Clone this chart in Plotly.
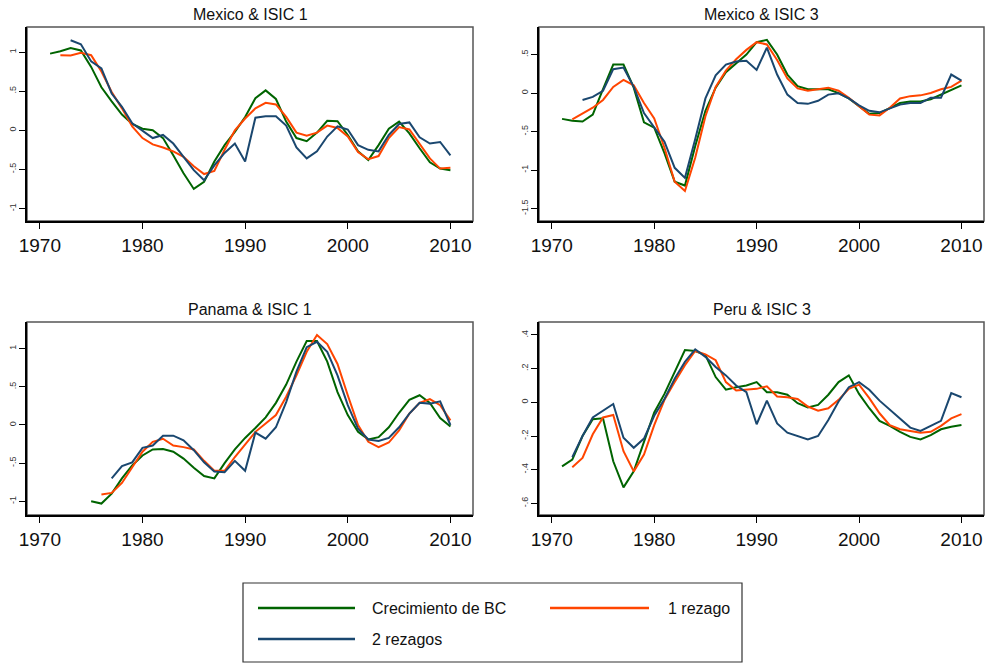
import plotly.graph_objects as go

FONT = "Liberation Sans, Arial, Helvetica, sans-serif"
GREEN = "#006400"
ORANGE = "#ff4500"
BLUE = "#1a476f"

SERIES_NAMES = ["Crecimiento de BC", "1 rezago", "2 rezagos"]
PANEL_TITLES = ["Mexico & ISIC 1", "Mexico & ISIC 3", "Panama & ISIC 1", "Peru & ISIC 3"]
X_TICKS = [1970, 1980, 1990, 2000, 2010]

# ---- Mexico & ISIC 1 ----
mx1_bc_years = list(range(1971, 2011))
mx1_bc = [0.98, 1.01, 1.05, 1.02, 0.81, 0.55, 0.37, 0.20, 0.08, 0.02,
          0.00, -0.10, -0.32, -0.55, -0.75, -0.66, -0.40, -0.19, -0.02, 0.17,
          0.41, 0.51, 0.40, 0.11, -0.10, -0.14, -0.03, 0.12, 0.115, -0.06,
          -0.27, -0.38, -0.19, 0.02, 0.11, -0.04, -0.23, -0.41, -0.49, -0.51]
mx1_l1_years = list(range(1972, 2011))
mx1_l1 = [0.96, 0.955, 0.99, 0.96, 0.75, 0.49, 0.28, 0.05, -0.10,
          -0.18, -0.22, -0.27, -0.34, -0.46, -0.56, -0.52, -0.25, 0.00, 0.15,
          0.28, 0.35, 0.33, 0.17, -0.03, -0.07, -0.03, 0.06, 0.03, -0.08,
          -0.28, -0.37, -0.33, -0.10, 0.04, 0.01, -0.17, -0.36, -0.49, -0.48]
mx1_l2_years = list(range(1973, 2011))
mx1_l2 = [1.15, 1.10, 0.88, 0.79, 0.47, 0.30, 0.09, 0.00,
          -0.10, -0.06, -0.17, -0.34, -0.51, -0.64, -0.45, -0.29, -0.17, -0.40,
          0.16, 0.18, 0.18, 0.06, -0.22, -0.36, -0.27, -0.08, 0.05, 0.01,
          -0.19, -0.25, -0.27, -0.06, 0.08, 0.10, -0.09, -0.17, -0.15, -0.32]

# ---- Mexico & ISIC 3 ----
mx3_bc_years = list(range(1971, 2011))
mx3_bc = [-0.335, -0.36, -0.37, -0.28, 0.05, 0.37, 0.37, 0.07, -0.38, -0.45,
          -0.78, -1.15, -1.20, -0.69, -0.23, 0.07, 0.27, 0.38, 0.50, 0.66,
          0.69, 0.50, 0.24, 0.09, 0.05, 0.05, 0.05, 0.00, -0.07, -0.17,
          -0.27, -0.26, -0.20, -0.13, -0.11, -0.11, -0.08, -0.02, 0.05, 0.10]
mx3_l1_years = list(range(1972, 2011))
mx3_l1 = [-0.34, -0.27, -0.19, -0.09, 0.08, 0.17, 0.10, -0.13, -0.33,
          -0.71, -1.15, -1.27, -0.84, -0.30, 0.08, 0.29, 0.44, 0.56, 0.66,
          0.63, 0.43, 0.19, 0.06, 0.03, 0.05, 0.07, 0.03, -0.06, -0.17,
          -0.28, -0.29, -0.19, -0.07, -0.04, -0.03, 0.00, 0.05, 0.08, 0.16]
mx3_l2_years = list(range(1973, 2011))
mx3_l2 = [-0.09, -0.05, 0.03, 0.31, 0.33, 0.08, -0.26, -0.45,
          -0.63, -0.97, -1.10, -0.60, -0.07, 0.23, 0.37, 0.41, 0.42, 0.30,
          0.59, 0.24, -0.02, -0.13, -0.14, -0.10, -0.02, -0.004, -0.07, -0.16,
          -0.23, -0.25, -0.20, -0.15, -0.13, -0.13, -0.06, -0.06, 0.24, 0.16]

# ---- Panama & ISIC 1 ----
pa1_bc_years = list(range(1975, 2011))
pa1_bc = [-1.00, -1.03, -0.90, -0.70, -0.53, -0.40,
          -0.32, -0.315, -0.35, -0.44, -0.56, -0.67, -0.70, -0.50, -0.32, -0.17,
          -0.04, 0.10, 0.29, 0.53, 0.83, 1.10, 1.10, 0.83, 0.43, 0.13,
          -0.09, -0.19, -0.16, -0.03, 0.16, 0.33, 0.39, 0.29, 0.09, -0.02]
pa1_l1_years = list(range(1976, 2011))
pa1_l1 = [-0.91, -0.89, -0.76, -0.55, -0.35,
          -0.22, -0.18, -0.27, -0.29, -0.32, -0.47, -0.60, -0.60, -0.42, -0.25,
          -0.09, 0.02, 0.13, 0.37, 0.65, 0.96, 1.18, 1.06, 0.80, 0.39,
          0.00, -0.22, -0.29, -0.23, -0.07, 0.15, 0.29, 0.34, 0.26, 0.06]
pa1_l2_years = list(range(1977, 2011))
pa1_l2 = [-0.70, -0.54, -0.49, -0.30,
          -0.27, -0.14, -0.14, -0.20, -0.33, -0.49, -0.61, -0.62, -0.47, -0.60,
          -0.10, -0.18, -0.03, 0.30, 0.70, 1.02, 1.09, 0.96, 0.65, 0.26,
          -0.05, -0.19, -0.21, -0.17, -0.03, 0.15, 0.29, 0.28, 0.31, 0.00]

# ---- Peru & ISIC 3 ----
pe3_bc_years = list(range(1971, 2011))
pe3_bc = [-0.38, -0.34, -0.20, -0.10, -0.095, -0.35, -0.505, -0.41, -0.235, -0.06,
          0.05, 0.18, 0.31, 0.305, 0.28, 0.15, 0.075, 0.09, 0.10, 0.12,
          0.06, 0.06, 0.045, -0.005, -0.03, -0.015, 0.045, 0.12, 0.16, 0.05,
          -0.035, -0.11, -0.14, -0.175, -0.205, -0.22, -0.195, -0.16, -0.145, -0.135]
pe3_l1_years = list(range(1972, 2011))
pe3_l1 = [-0.385, -0.33, -0.19, -0.09, -0.075, -0.29, -0.41, -0.31, -0.135,
          0.015, 0.12, 0.22, 0.305, 0.285, 0.25, 0.12, 0.07, 0.075, 0.08,
          0.095, 0.035, 0.03, 0.02, -0.025, -0.05, -0.035, 0.015, 0.08, 0.105,
          0.025, -0.065, -0.135, -0.16, -0.17, -0.18, -0.175, -0.14, -0.095, -0.07]
pe3_l2_years = list(range(1972, 2011))
pe3_l2 = [-0.325, -0.20, -0.09, -0.05, -0.01, -0.21, -0.27, -0.215, -0.08,
          0.02, 0.14, 0.24, 0.315, 0.27, 0.21, 0.16, 0.10, 0.06, -0.13,
          0.01, -0.125, -0.18, -0.20, -0.22, -0.20, -0.105, 0.005, 0.09, 0.12,
          0.075, 0.01, -0.045, -0.10, -0.15, -0.17, -0.14, -0.11, 0.055, 0.03]

panels = [
    dict(data=[(mx1_bc_years, mx1_bc), (mx1_l1_years, mx1_l1), (mx1_l2_years, mx1_l2)],
         yrange=[-1.16, 1.32], yticks=[-1, -0.5, 0, 0.5, 1], ytext=["-1", "-.5", "0", ".5", "1"],
         xdom=[27 / 990, 473 / 990], ydom=[1 - 221 / 663, 1 - 27 / 663]),
    dict(data=[(mx3_bc_years, mx3_bc), (mx3_l1_years, mx3_l1), (mx3_l2_years, mx3_l2)],
         yrange=[-1.66, 0.857], yticks=[-1.5, -1, -0.5, 0, 0.5], ytext=["-1.5", "-1", "-.5", "0", ".5"],
         xdom=[539 / 990, 984 / 990], ydom=[1 - 221 / 663, 1 - 27 / 663]),
    dict(data=[(pa1_bc_years, pa1_bc), (pa1_l1_years, pa1_l1), (pa1_l2_years, pa1_l2)],
         yrange=[-1.18, 1.35], yticks=[-1, -0.5, 0, 0.5, 1], ytext=["-1", "-.5", "0", ".5", "1"],
         xdom=[27 / 990, 473 / 990], ydom=[1 - 515 / 663, 1 - 322 / 663]),
    dict(data=[(pe3_bc_years, pe3_bc), (pe3_l1_years, pe3_l1), (pe3_l2_years, pe3_l2)],
         yrange=[-0.669, 0.477], yticks=[-0.6, -0.4, -0.2, 0, 0.2, 0.4],
         ytext=["-.6", "-.4", "-.2", "0", ".2", ".4"],
         xdom=[539 / 990, 984 / 990], ydom=[1 - 515 / 663, 1 - 322 / 663]),
]
COLORS = [GREEN, ORANGE, BLUE]

fig = go.Figure()
layout = {}
shapes = []
annotations = []
for i, p in enumerate(panels):
    n = "" if i == 0 else str(i + 1)
    xa, ya = "x" + n, "y" + n
    for (xs, ys), name, col in zip(p["data"], SERIES_NAMES, COLORS):
        fig.add_trace(go.Scatter(x=xs, y=ys, mode="lines", name=name,
                                 line=dict(color=col, width=2),
                                 xaxis=xa, yaxis=ya, showlegend=False))
    layout["xaxis" + n] = dict(domain=p["xdom"], anchor=ya, range=[1968.75, 2012.2],
                               tickvals=X_TICKS, ticks="outside", ticklen=6, tickcolor="black",
                               showline=True, linecolor="black", linewidth=1.5,
                               showgrid=False, zeroline=False, automargin=False,
                               tickfont=dict(family=FONT, size=19, color="#111"))
    layout["yaxis" + n] = dict(domain=p["ydom"], anchor=xa, range=p["yrange"],
                               tickvals=p["yticks"], ticktext=p["ytext"], tickangle=-90,
                               ticks="outside", ticklen=6, tickcolor="black",
                               showline=True, linecolor="black", linewidth=1.5,
                               showgrid=False, zeroline=False, automargin=False,
                               tickfont=dict(family=FONT, size=9, color="#333"))
    shapes.append(dict(type="rect", xref=xa + " domain", yref=ya + " domain",
                       x0=0, x1=1, y0=0, y1=1, line=dict(color="#555", width=1.5),
                       layer="below"))
    annotations.append(dict(text=PANEL_TITLES[i], x=(p["xdom"][0] + p["xdom"][1]) / 2,
                            y=p["ydom"][1], xref="paper", yref="paper",
                            xanchor="center", yanchor="bottom", yshift=2, showarrow=False,
                            font=dict(family=FONT, size=16, color="#111")))

# legend box (drawn in pixel-based paper coords)
W, H = 990, 663
def px(x):
    return x / W
def py(y):
    return 1 - y / H

shapes.append(dict(type="rect", xref="paper", yref="paper", x0=px(243), x1=px(742),
                   y0=py(662), y1=py(583), line=dict(color="#333", width=1.2)))
legend_items = [(SERIES_NAMES[0], GREEN, 258, 355, 370, 608),
                (SERIES_NAMES[1], ORANGE, 550, 649, 666, 608),
                (SERIES_NAMES[2], BLUE, 258, 355, 370, 639)]
for name, col, lx0, lx1, tx, ly in legend_items:
    shapes.append(dict(type="line", xref="paper", yref="paper", x0=px(lx0), x1=px(lx1),
                       y0=py(ly), y1=py(ly), line=dict(color=col, width=2.5)))
    annotations.append(dict(text=name, x=px(tx), y=py(ly), xref="paper", yref="paper",
                            xanchor="left", yanchor="middle", showarrow=False,
                            font=dict(family=FONT, size=16, color="#111")))

fig.update_layout(**layout)
fig.update_layout(width=W, height=H, margin=dict(l=0, r=0, t=0, b=0, autoexpand=False),
                  paper_bgcolor="white", plot_bgcolor="white",
                  shapes=shapes, annotations=annotations, showlegend=False)
fig.write_html("out.html", config={"displayModeBar": False},
               post_script="document.body.style.margin='0';document.body.style.overflow='hidden';")
